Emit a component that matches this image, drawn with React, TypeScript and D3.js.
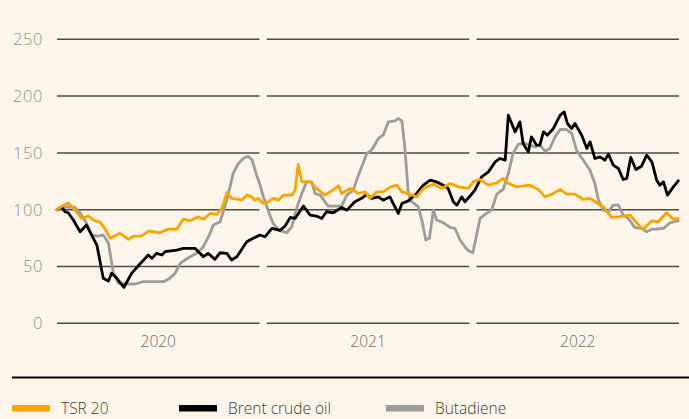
import React from "react";
import * as d3 from "d3";

// ---- data (x in weeks since start of 2020, y index value) ----
const years = ["2020", "2021", "2022"];
const yTicks = [0, 50, 100, 150, 200, 250];

const tsrWeeks = [0,1.25,2.8,4.5,6.2,7.9,9.1,10.8,12.0,13.3,14.5,15.8,17.9,19.1,21.2,22.9,24.2,25.8,27.9,30.0,31.7,33.4,35.4,36.7,38.4,40.1,41.3,42.6,43.8,45.5,46.3,47.6,48.8,49.7,50.5,51.7,53.0,54.3,55.5,56.8,58.9,59.7,60.5,61.4,63.5,65.1,67.2,68.9,70.6,71.4,73.5,75.6,77.3,78.5,80.2,81.8,83.5,85.2,86.5,88.5,90.2,91.9,94.4,96.5,98.6,100.7,103.2,104.4,106.1,108.2,110.3,111.9,113.2,115.3,118.6,120.7,122.4,124.1,126.2,127.8,129.9,132.0,133.7,135.4,137.0,139.1,141.2,143.7,145.4,147.0,149.2,150.8,152.9,154.6,155.8];
const tsrValues = [100,103,106,99.6,92.3,94.4,90.9,88.8,83.5,74.8,76.8,79.2,73.9,76.8,76.8,81.2,80.6,79.7,82.9,82.7,91.7,90.2,93.8,91.5,96.7,95.9,101,114.9,109.9,109,108.4,112.8,111.3,108.4,110,105.5,107,110,108.4,112.8,112.8,117.2,139.8,124.5,124.5,118.7,112.8,116.6,120.8,114.3,118.7,114.3,115.7,110,115.7,115.7,119.6,121.6,115.7,113.7,111.3,118.7,122.5,118.7,123.1,120.1,118.7,124.5,126.6,121.6,123.7,127.5,123.1,120.1,121.6,117.9,111.3,113.5,117.9,113.7,113.7,109,110,106.1,102.6,93.2,93.8,95.3,88.5,82.7,90.2,89.4,97.3,91.5,92.3];

const brentWeeks = [0,1.2,2.0,2.8,4.1,5.8,7.4,8.7,10.0,11.6,12.9,13.7,15.0,16.8,18.7,20.8,22.9,23.8,25.0,26.3,27.1,30.0,31.7,34.6,36.7,37.9,39.6,40.9,42.6,43.8,45.1,47.6,49.2,50.9,52.2,53.9,55.9,57.2,58.5,59.7,61.8,63.5,65.1,66.4,67.6,69.3,71.4,72.7,74.7,76.4,77.7,78.9,80.6,81.8,83.5,84.3,85.6,86.5,88.1,90.2,91.9,93.6,95.2,96.9,98.1,99.4,100.3,101.5,102.3,103.6,104.8,106.5,108.2,109.9,111.1,112.4,113.2,114.9,116.1,116.9,118.2,119.0,120.3,121.1,122.0,123.0,124.5,126.2,127.2,128.0,129.1,129.9,131.6,132.9,133.7,134.9,136.2,137.4,138.3,139.5,140.8,142.0,142.9,143.9,145.2,146.6,147.9,149.2,150.4,151.2,152.1,153.1,154.6,155.8];
const brentValues = [100,102.6,98.2,97.3,90.9,80.6,86.5,77.7,68.9,39.6,37.2,44,39.6,31.7,44,52.2,60.1,57.2,61.6,60.1,63,64.5,66,66,58.6,61.6,56.3,62.1,61.6,55.7,58.6,71.8,74.8,77.7,76.2,83.5,81.8,85.6,93.2,92.3,103.2,95.3,94.4,92.3,98.2,97.3,102,99.6,107,110,113.5,110,111.3,108.4,111.3,105.5,96.7,105.5,107.8,114.3,121.6,126,124.5,121.6,118.7,107,104,111.3,107,112,117.2,128.9,133.3,142.1,145.1,143.6,183.2,168.5,177.3,158.3,150.9,164.1,156.8,156.8,168.5,165.6,171.5,183.2,186.1,175.9,171.5,175.9,165.6,153.9,159.7,145.1,146.5,143.6,148.9,139.2,136.3,126.6,127.5,146,135.4,138.3,148,142.1,126,121.6,124.5,112.8,120.1,125.4];

const butaWeeks = [0,1.6,4.5,5.8,7.4,8.7,10.0,11.6,12.9,14.1,15.4,17.5,19.6,21.6,26.7,28.3,29.6,30.9,32.1,33.4,35.0,36.7,38.4,39.2,40.9,42.1,43.4,44.2,45.5,46.7,47.9,48.9,50.1,50.9,51.7,52.6,53.4,54.2,55.1,55.9,57.6,58.9,60.1,61.4,62.6,63.9,64.7,66.0,68.0,71.4,72.7,74.3,75.6,77.7,78.9,80.6,81.8,83.1,84.8,85.6,86.5,87.3,88.1,88.9,90.6,91.5,92.5,93.4,94.4,95.2,96.9,98.6,99.8,101.1,102.3,103.2,104.3,106.1,107.7,109.0,110.3,111.9,113.2,114.4,115.7,117.4,118.6,119.9,121.1,122.4,123.6,124.9,126.2,127.8,129.1,130.3,132.0,133.7,134.9,135.8,137.0,138.3,139.5,140.8,142.0,143.3,144.9,146.6,147.9,149.2,152.1,153.8,155.8];
const butaValues = [100,102.6,102,97.3,88,77.7,76.8,77.7,70.4,45.4,35.2,34.6,34.6,36.6,36.6,39.6,44,52.8,55.7,58.6,61.6,67.4,79.2,86.5,89.4,102.6,120.1,132,140.7,145,147,144,130,122,112,103,95,88,84,81.5,79.7,85,101,114.3,124.5,124.5,114.3,112.8,103.2,103.2,112.8,117.2,130.4,149.5,152.4,162.7,165.6,177.3,178.2,180.3,178.2,152.4,114.3,107,102.6,90.9,73.3,74.8,99.6,90.9,88.5,84.4,83.5,73.3,67.4,63.9,62.1,92.3,96.7,99.6,113.7,117.9,132,149.5,157.7,158.3,156.8,155.3,156.8,151.5,153.9,164.1,170.6,170.6,167.1,152.4,143.6,134.8,123.1,108.4,99.6,98.2,104,104,95.3,92.3,84.4,83.5,80.6,82.7,83.5,88.5,90.2];

const seriesNames = ["TSR 20", "Brent crude oil", "Butadiene"];
const seriesColors = ["#f9a500", "#000000", "#9c9c9c"];

const W = 689;
const H = 419;
const BG = "#fdf5e9";
const FONT = "'Open Sans', 'Noto Sans', sans-serif";

export default function App() {
  const x = d3.scaleLinear().domain([0, 156]).range([57, 679]);
  const y = d3.scaleLinear().domain([0, 250]).range([323.3, 39.3]);
  const panels: [number, number][] = [
    [57, 259.5],
    [266.8, 469.3],
    [476.5, 679],
  ];
  const line = d3
    .line<[number, number]>()
    .x((d) => x(d[0]))
    .y((d) => y(d[1]))
    .curve(d3.curveLinear);

  const toPts = (w: number[], v: number[]) => w.map((wk, i) => [wk, v[i]] as [number, number]);
  const paths = [
    { d: line(toPts(butaWeeks, butaValues)), c: seriesColors[2] },
    { d: line(toPts(brentWeeks, brentValues)), c: seriesColors[1] },
    { d: line(toPts(tsrWeeks, tsrValues)), c: seriesColors[0] },
  ];
  const legendX = [12, 179, 386];

  return (
    <div style={{ position: "fixed", left: 0, top: 0, width: W, height: H, background: BG }}>
      <svg width={W} height={H} style={{ display: "block", fontFamily: FONT }}>
        <rect width={W} height={H} fill={BG} />
        {yTicks.map((t) => (
          <g key={t}>
            {panels.map((p, i) => (
              <line key={i} x1={p[0]} x2={p[1]} y1={y(t)} y2={y(t)} stroke="#4e4944" strokeWidth={1.5} />
            ))}
            <text x={43} y={y(t)} dy="0.36em" textAnchor="end" fontSize={16.5} fontWeight={300} fill="#938e89" letterSpacing={0.6}>
              {t}
            </text>
          </g>
        ))}
        {years.map((yr, i) => (
          <text key={yr} x={(panels[i][0] + panels[i][1]) / 2} y={347} textAnchor="middle" fontSize={15.5} fontWeight={300} fill="#6e6a66">
            {yr}
          </text>
        ))}
        {paths.map((p, i) => (
          <path key={i} d={p.d || ""} fill="none" stroke={p.c} strokeWidth={2.8} strokeLinejoin="round" strokeLinecap="round" />
        ))}
        <line x1={12} x2={689} y1={377.5} y2={377.5} stroke="#000" strokeWidth={2} />
        {seriesNames.map((n, i) => (
          <g key={n}>
            <rect x={legendX[i]} y={405} width={38} height={6.5} fill={seriesColors[i]} />
            <text x={legendX[i] + 49} y={408} dy="0.36em" fontSize={15.5} fontWeight={300} fill="#3f3b38">
              {n}
            </text>
          </g>
        ))}
      </svg>
    </div>
  );
}
